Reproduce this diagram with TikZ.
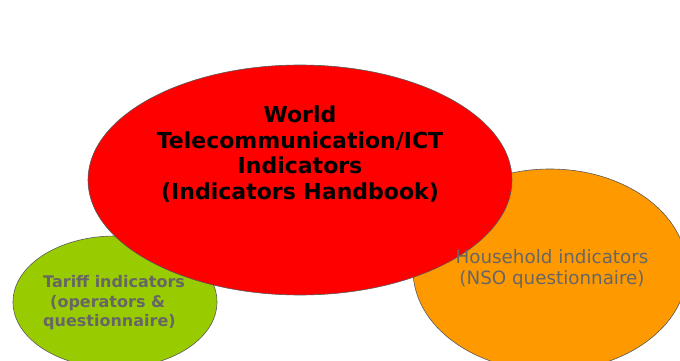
\documentclass[tikz,border=0pt]{standalone}
\usepackage{fontspec}
\setmainfont{DejaVu Sans}
\usetikzlibrary{shapes.geometric}
\definecolor{ired}{HTML}{FF0000}
\definecolor{igreen}{HTML}{99CC00}
\definecolor{iorange}{HTML}{FF9900}
\definecolor{itext}{HTML}{666666}
\tikzset{
  blob/.style={draw=black!65, line width=0.6pt},
  ptext/.style={inner sep=0pt, align=center}
}
\begin{document}
\begin{tikzpicture}[x=1pt,y=-1pt]
\useasboundingbox (0,0) rectangle (680,361);
\clip (0,0) rectangle (680,361);
\fill[white] (0,0) rectangle (680,361);
\draw[blob, fill=igreen] (115,302) ellipse [x radius=102, y radius=66];
\draw[blob, fill=iorange] (550,270) ellipse [x radius=137, y radius=101];
\draw[blob, fill=ired] (300,180) ellipse [x radius=212, y radius=115];
\node[ptext, font=\fontsize{22}{25.7}\selectfont\bfseries, text=black] (main) at (300,154)
  {World\\Telecommunication/ICT\\Indicators\\(Indicators Handbook)};
\node[ptext, font=\fontsize{18.3}{21}\selectfont, text=itext] (house) at (552,269)
  {Household indicators\\(NSO questionnaire)};
\node[inner sep=0pt, align=left, anchor=west, font=\fontsize{16}{19.5}\selectfont\bfseries, text=itext] (tariff) at (43,303)
  {Tariff indicators\\\hspace*{7pt}(operators \&\\questionnaire)};
\end{tikzpicture}
\end{document}
